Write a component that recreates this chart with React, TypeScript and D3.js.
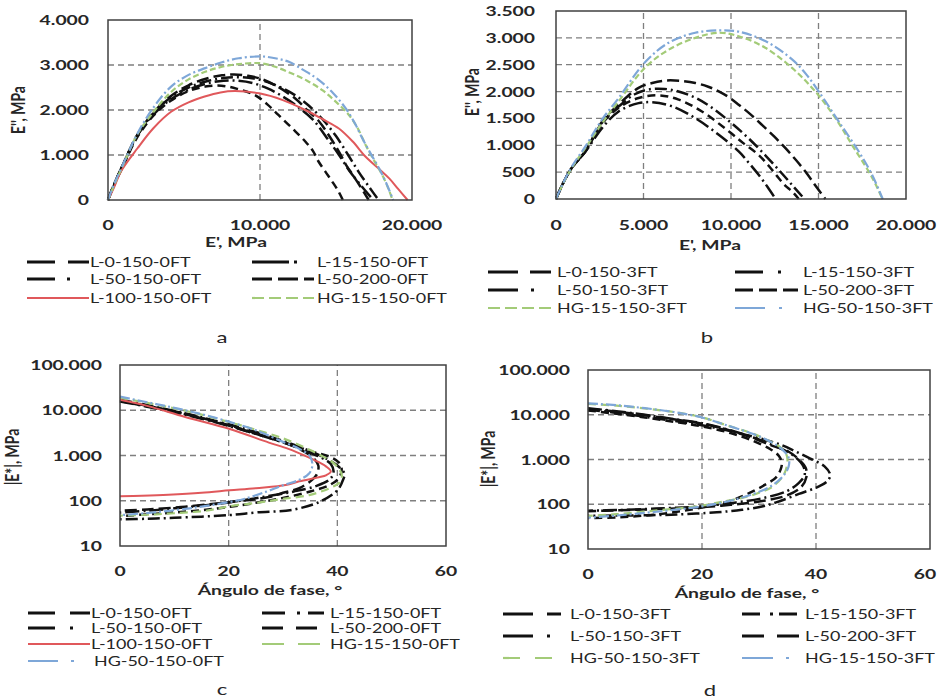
import React from 'react';
import * as d3 from 'd3';

type P = [number, number];

// ---------- Panel a : E' vs E'' (0FT) ----------
const a_L0_150: P[] = [[0,0],[400,350],[1000,800],[1900,1430],[3000,1950],[4100,2300],[5300,2550],[6500,2700],[7500,2770],[8300,2790],[9200,2760],[10000,2700],[11000,2550],[12300,2260],[13100,2000],[13900,1740],[14600,1400],[15200,1070],[15700,760],[16100,560],[16600,300],[17150,0]];
const a_L15_150: P[] = [[0,0],[400,340],[1000,790],[1900,1420],[3000,1930],[4100,2270],[5300,2500],[6500,2640],[7600,2710],[8600,2730],[9600,2700],[10500,2620],[11500,2480],[12300,2330],[13200,2100],[14100,1800],[15000,1420],[15800,1000],[16500,620],[17200,280],[17800,0]];
const a_L50_150: P[] = [[0,0],[400,345],[1000,795],[1900,1420],[3000,1900],[4100,2230],[5300,2450],[6500,2590],[7600,2650],[8500,2650],[9500,2600],[10500,2480],[11500,2300],[12500,2070],[13500,1780],[14400,1380],[15200,1000],[15900,640],[16700,300],[17450,0]];
const a_L50_200: P[] = [[0,0],[400,330],[1000,760],[1900,1380],[3000,1880],[4100,2200],[5300,2420],[6400,2520],[7460,2540],[8500,2470],[9670,2330],[10500,2120],[11210,1890],[12100,1600],[12980,1300],[13500,1080],[13860,850],[14300,630],[14750,410],[15150,200],[15450,0]];
const a_L100_150: P[] = [[0,0],[400,280],[840,630],[1940,1150],[3000,1600],[4150,1960],[5300,2170],[6360,2300],[7400,2390],[8340,2420],[9950,2370],[11500,2220],[12980,2000],[14100,1800],[15190,1590],[16100,1300],[16950,960],[17800,700],[18500,480],[19100,240],[19710,0]];
const a_HG15_150: P[] = [[0,0],[400,330],[1000,780],[1900,1440],[3000,1960],[4150,2400],[5300,2680],[6400,2850],[7500,2960],[8600,3020],[10000,3040],[11000,2960],[12100,2810],[13100,2650],[14100,2440],[15000,2180],[15850,1890],[16500,1550],[16950,1220],[17500,880],[18050,550],[18450,250],[18720,0]];
const a_HG50_150: P[] = [[0,0],[400,350],[1000,800],[1940,1480],[3000,2060],[4150,2520],[5300,2780],[6400,2930],[7500,3060],[8600,3150],[10100,3190],[11000,3150],[11900,3070],[12900,2880],[13860,2670],[14800,2380],[15630,2040],[16250,1700],[16730,1370],[17300,1020],[17840,700],[18300,380],[18760,0]];

// ---------- Panel b : E' vs E'' (3FT) ----------
const b_L0_150: P[] = [[0,0],[400,290],[900,580],[1680,890],[2630,1440],[3580,1760],[4720,2070],[5500,2160],[6250,2205],[7100,2200],[7960,2160],[8700,2090],[9300,2005],[9900,1890],[10440,1756],[11100,1580],[11770,1380],[12450,1170],[13100,950],[13700,730],[14250,510],[14800,260],[15390,0]];
const b_L15_150: P[] = [[0,0],[400,290],[900,580],[1680,890],[2630,1420],[3580,1720],[4500,1950],[5300,2040],[6200,2050],[7000,2000],[8000,1880],[9000,1680],[10000,1420],[11000,1130],[12000,800],[12900,480],[13600,220],[14200,0]];
const b_L50_150: P[] = [[0,0],[400,290],[900,580],[1680,880],[2630,1320],[3580,1630],[4720,1785],[5490,1800],[6630,1725],[7960,1505],[9300,1195],[10440,885],[11000,680],[11580,450],[12100,220],[12550,0]];
const b_L50_200: P[] = [[0,0],[400,290],[900,580],[1680,890],[2630,1400],[3580,1700],[4720,1880],[5870,1930],[7010,1850],[8340,1630],[9870,1260],[10700,1040],[11580,820],[12200,600],[12720,390],[13100,250],[13490,140],[13870,0]];
const b_HG15_150: P[] = [[0,0],[400,280],[900,580],[1680,950],[2630,1410],[3580,1820],[5070,2440],[6440,2780],[7960,3000],[9300,3095],[10440,3030],[11960,2815],[13490,2440],[14820,2000],[15960,1510],[16910,1010],[17870,510],[18300,250],[18650,0]];
const b_HG50_150: P[] = [[0,0],[400,290],[900,600],[1680,980],[2630,1480],[3580,1880],[5070,2540],[6440,2910],[7960,3095],[9300,3140],[10440,3115],[11960,2940],[13490,2600],[14300,2320],[15010,2005],[16150,1445],[17300,885],[18060,450],[18670,0]];

// ---------- Panel c : phase angle vs |E*| (0FT) ----------
const c_L0_150: P[] = [[0,16500],[5,12500],[10,9500],[15,6800],[20,4600],[25,3000],[30,1950],[33,1400],[35.5,900],[36.5,600],[36.3,400],[35.5,300],[33,190],[30,150],[27.4,121],[20,93],[12,74],[5,64],[0,60]];
const c_L15_150: P[] = [[0,17000],[5,13000],[10,9700],[15,7000],[20,4900],[25,3300],[30,2100],[35,1250],[38,850],[40,600],[41.3,400],[41,280],[40,170],[37,98],[32,64],[25,55],[20,48],[10,42],[5,40],[0,39]];
const c_L50_150: P[] = [[0,15500],[5,12000],[10,9000],[15,6500],[20,4500],[25,3000],[30,1950],[34,1280],[37,900],[38.8,650],[39.3,420],[38.5,290],[36,210],[32,160],[27,125],[20,92],[15,78],[10,68],[5,60],[0,55]];
const c_L50_200: P[] = [[0,16000],[5,12200],[10,9300],[15,6700],[20,4700],[25,3100],[30,2000],[35,1250],[38.5,950],[40.3,700],[40.8,500],[40.3,320],[38.5,220],[35,160],[30,115],[25,90],[20,73],[15,62],[10,55],[5,50],[0,46]];
const c_L100_150: P[] = [[0,17000],[5,12500],[12,7100],[20.2,3850],[27.4,1930],[31,1400],[34.2,970],[36.5,720],[37.9,575],[38.8,443],[38,370],[36.6,330],[33,270],[30.5,222],[25,190],[20.2,170],[15,150],[8.9,136],[4,129],[0,125]];
const c_HG15_150: P[] = [[0,19000],[5,14500],[10,11000],[15,8000],[20,5500],[25,3700],[30,2400],[34,1500],[37,1000],[39.5,650],[40.8,380],[40.5,260],[39,200],[35,135],[30,110],[26,93],[20,75],[15.7,60],[10,53],[5,49],[0,47]];
const c_HG50_150: P[] = [[0,20000],[5,15000],[10,11300],[15,8200],[20,5600],[25,3600],[30,2000],[33,1400],[35,950],[35.4,600],[34.8,400],[33,290],[30,220],[27,160],[23,111],[20,93],[15,74],[12,66],[6,55],[0,48]];

// ---------- Panel d : phase angle vs |E*| (3FT) ----------
const d_L0_150: P[] = [[0,13500],[5,11800],[10,9800],[15,7900],[20,6300],[25,4400],[29,3000],[32,2100],[35,1550],[37,1000],[38.2,650],[38.3,400],[37.5,250],[35,160],[30,115],[25,97],[20,86],[11,77],[5,73],[0,70]];
const d_L15_150: P[] = [[0,13000],[5,11000],[10,9000],[15,7300],[20,5800],[25,4300],[30,3000],[34,2100],[36.5,1500],[39,1050],[41.5,700],[42.5,450],[42,330],[40.5,250],[37,170],[33,110],[30.7,90],[27,75],[22.6,66],[15.6,59],[10.9,57],[5,56],[0,55]];
const d_L50_150: P[] = [[0,14000],[5,12000],[10,10000],[15,8000],[20,6500],[25,4500],[29,3100],[32,2200],[34.5,1600],[36.5,1100],[37.8,700],[38,450],[37,300],[35,200],[31,140],[26,110],[20,90],[12,80],[5,74],[0,72]];
const d_L50_200: P[] = [[0,12500],[5,10500],[10,8700],[15,7000],[20,5500],[25,3900],[29,2600],[32,1700],[33.5,1200],[34,850],[33.8,600],[33,400],[31,270],[28,170],[25,120],[20,85],[15,66],[10,56],[5,51],[0,49]];
const d_HG50_150: P[] = [[0,17500],[5,16000],[10,13800],[15,11500],[19.8,8900],[24,6000],[28.9,3800],[31.5,2700],[33.6,1940],[34.8,1300],[35,990],[34.5,500],[32.5,253],[30,180],[27.2,141],[23,110],[19.8,92],[11.3,71],[5,60],[0,55]];
const d_HG15_150: P[] = [[0,18000],[5,16300],[10,14000],[15,11500],[20,8700],[24,6000],[29,3700],[32,2500],[34,1700],[35.2,1100],[35.2,700],[34.2,420],[32,250],[29,170],[25,120],[20,90],[12,68],[5,56],[0,50]];

// ---------- ticks ----------
const aXTicks = [0, 10000, 20000];
const aYTicks = [0, 1000, 2000, 3000, 4000];
const bXTicks = [0, 5000, 10000, 15000, 20000];
const bYTicks = [0, 500, 1000, 1500, 2000, 2500, 3000, 3500];
const phaseTicks = [0, 20, 40, 60];
const modTicks = [10, 100, 1000, 10000, 100000];

const loc = d3.formatLocale({ decimal: ',', thousands: '.', grouping: [3], currency: ['', ''] });
const fmt = loc.format(',d');

const FONT = 'Lato, "Open Sans", sans-serif';
const SX = 1.38;
const TXT = '#262626';
const BLACK = '#111';
const RED = '#E0585B';
const GREEN = '#A3CB78';
const BLUE = '#7EA7D8';

type S = { name: string; data: P[]; color: string; w: number; dash: string; ldash: string };

function T(p: any) {
  const { x, y, children, anchor = 'start', size = 13, weight = 400, rot = false } = p;
  const tr = rot ? `translate(${x},${y}) rotate(-90) scale(1,${SX})` : `translate(${x},${y}) scale(${SX},1)`;
  return (
    <text transform={tr} textAnchor={anchor} fontSize={size} fontWeight={weight} fill={TXT} fontFamily={FONT}>
      {children}
    </text>
  );
}

function Panel(p: any) {
  const { x, y, series, xTicks, yTicks, xGrid, yGrid, yLabelX, xLabelY } = p;
  const [x0, x1] = x.range();
  const [y0, y1] = y.range();
  const line = d3.line<P>().x((d) => x(d[0])).y((d) => y(d[1])).curve(d3.curveCatmullRom.alpha(0.5));
  return (
    <g>
      {xGrid.map((v: number) => (
        <line key={'gx' + v} x1={x(v)} x2={x(v)} y1={y0} y2={y1} stroke="#7f7f7f" strokeWidth={1.3} strokeDasharray="6,4" />
      ))}
      {yGrid.map((v: number) => (
        <line key={'gy' + v} x1={x0} x2={x1} y1={y(v)} y2={y(v)} stroke="#7f7f7f" strokeWidth={1.3} strokeDasharray="6,4" />
      ))}
      {series.map((s: S) => (
        <path key={s.name} d={line(s.data) || ''} fill="none" stroke={s.color} strokeWidth={s.w} strokeDasharray={s.dash} strokeLinejoin="round" />
      ))}
      <rect x={x0} y={y1} width={x1 - x0} height={y0 - y1} fill="none" stroke="#404040" strokeWidth={1.5} />
      {yTicks.map((v: number) => (
        <T key={'ty' + v} x={yLabelX} y={y(v) + 5} anchor="end" size={14} weight={700}>{fmt(v)}</T>
      ))}
      {xTicks.map((v: number, i: number) => (
        <T key={'tx' + v} x={x(v) - (p.lastShift && i === xTicks.length - 1 ? p.lastShift : 0)} y={xLabelY} anchor="middle" size={14} weight={700}>{fmt(v)}</T>
      ))}
    </g>
  );
}

function Legend(p: any) {
  const { items, cols, rows, len } = p;
  return (
    <g>
      {items.map((it: any) => {
        const s: S = it.s;
        const c = cols[it.c];
        const yy = rows[it.r];
        return (
          <g key={s.name}>
            <line x1={c.lx} x2={c.lx + len} y1={yy} y2={yy} stroke={s.color} strokeWidth={s.color === BLACK ? 3 : 2.2} strokeDasharray={s.ldash} />
            <T x={c.tx + (it.dx || 0)} y={yy + 5} size={13}>{s.name}</T>
          </g>
        );
      })}
    </g>
  );
}

export default function App() {
  // panel a
  const ax = d3.scaleLinear().domain([0, 20000]).range([108, 412]);
  const ay = d3.scaleLinear().domain([0, 4000]).range([200, 20]);
  const A: S[] = [
    { name: 'L-0-150-0FT', data: a_L0_150, color: BLACK, w: 2.5, dash: '12,5', ldash: '28,13' },
    { name: 'L-15-150-0FT', data: a_L15_150, color: BLACK, w: 2.5, dash: '12,4,2,4', ldash: '37,5,3,30' },
    { name: 'L-50-150-0FT', data: a_L50_150, color: BLACK, w: 2.5, dash: '14,4,2,4', ldash: '28,12,3,30' },
    { name: 'L-50-200-0FT', data: a_L50_200, color: BLACK, w: 2.5, dash: '8,5', ldash: '20,6' },
    { name: 'L-100-150-0FT', data: a_L100_150, color: RED, w: 2, dash: '', ldash: '' },
    { name: 'HG-15-150-0FT', data: a_HG15_150, color: GREEN, w: 2.2, dash: '6,3', ldash: '12,5' },
    { name: 'HG-50-150-0FT', data: a_HG50_150, color: BLUE, w: 2.2, dash: '10,3,2,3', ldash: '' },
  ];
  // panel b
  const bx = d3.scaleLinear().domain([0, 20000]).range([556, 906]);
  const by = d3.scaleLinear().domain([0, 3500]).range([199, 11]);
  const B: S[] = [
    { name: 'L-0-150-3FT', data: b_L0_150, color: BLACK, w: 2.5, dash: '12,5', ldash: '30,12' },
    { name: 'L-15-150-3FT', data: b_L15_150, color: BLACK, w: 2.5, dash: '12,4,2,4', ldash: '28,15,3,30' },
    { name: 'L-50-150-3FT', data: b_L50_150, color: BLACK, w: 2.5, dash: '14,4,2,4', ldash: '30,13,3,30' },
    { name: 'L-50-200-3FT', data: b_L50_200, color: BLACK, w: 2.5, dash: '8,5', ldash: '18,6' },
    { name: 'HG-15-150-3FT', data: b_HG15_150, color: GREEN, w: 2.2, dash: '6,3', ldash: '12,5' },
    { name: 'HG-50-150-3FT', data: b_HG50_150, color: BLUE, w: 2.2, dash: '10,3,2,3', ldash: '30,14,3,30' },
  ];
  // panel c
  const cx = d3.scaleLinear().domain([0, 60]).range([120, 446]);
  const cy = d3.scaleLog().domain([10, 100000]).range([546, 365]);
  const C: S[] = [
    { name: 'L-0-150-0FT', data: c_L0_150, color: BLACK, w: 2.5, dash: '12,5', ldash: '27,15' },
    { name: 'L-15-150-0FT', data: c_L15_150, color: BLACK, w: 2.5, dash: '12,4,2,4', ldash: '23,12,3,8' },
    { name: 'L-50-150-0FT', data: c_L50_150, color: BLACK, w: 2.5, dash: '14,4,2,4', ldash: '27,15,3,30' },
    { name: 'L-50-200-0FT', data: c_L50_200, color: BLACK, w: 2.5, dash: '8,5', ldash: '21,13' },
    { name: 'L-100-150-0FT', data: c_L100_150, color: RED, w: 2, dash: '', ldash: '' },
    { name: 'HG-15-150-0FT', data: c_HG15_150, color: GREEN, w: 2.2, dash: '8,5', ldash: '22,14' },
    { name: 'HG-50-150-0FT', data: c_HG50_150, color: BLUE, w: 2.2, dash: '10,3,2,3', ldash: '30,13,3,30' },
  ];
  // panel d
  const dx = d3.scaleLinear().domain([0, 60]).range([588, 930]);
  const dy = d3.scaleLog().domain([10, 100000]).range([549, 370]);
  const D: S[] = [
    { name: 'L-0-150-3FT', data: d_L0_150, color: BLACK, w: 2.5, dash: '12,5', ldash: '30,14' },
    { name: 'L-15-150-3FT', data: d_L15_150, color: BLACK, w: 2.5, dash: '12,4,2,4', ldash: '18,10,3,6' },
    { name: 'L-50-150-3FT', data: d_L50_150, color: BLACK, w: 2.5, dash: '14,4,2,4', ldash: '30,14,3,30' },
    { name: 'L-50-200-3FT', data: d_L50_200, color: BLACK, w: 2.5, dash: '8,5', ldash: '22,13' },
    { name: 'HG-50-150-3FT', data: d_HG50_150, color: GREEN, w: 2.2, dash: '8,5', ldash: '17,15' },
    { name: 'HG-15-150-3FT', data: d_HG15_150, color: BLUE, w: 2.2, dash: '10,3,2,3', ldash: '31,13,3,30' },
  ];

  return (
    <svg width={940} height={700} style={{ position: 'absolute', left: 0, top: 0, background: '#fff' }}>
      <rect x={0} y={0} width={940} height={700} fill="#fff" />
      <Panel x={ax} y={ay} series={A} xTicks={aXTicks} yTicks={aYTicks} xGrid={[10000]} yGrid={[1000, 2000, 3000]} yLabelX={89} xLabelY={230} />
      <Panel x={bx} y={by} series={B} xTicks={bXTicks} yTicks={bYTicks} xGrid={[5000, 10000, 15000]} yGrid={[500, 1000, 1500, 2000, 2500, 3000]} yLabelX={535} xLabelY={230} />
      <Panel x={cx} y={cy} series={C} xTicks={phaseTicks} yTicks={modTicks} xGrid={[20, 40]} yGrid={[100, 1000, 10000]} yLabelX={102} xLabelY={576} />
      <Panel x={dx} y={dy} series={D} xTicks={phaseTicks} yTicks={modTicks} xGrid={[20, 40]} yGrid={[100, 1000, 10000]} yLabelX={570} xLabelY={579} lastShift={5} />

      {/* axis titles */}
      <T x={236} y={247} anchor="middle" size={14} weight={700}>E', MPa</T>
      <T x={25} y={110} anchor="middle" size={14} weight={700} rot>E'', MPa</T>
      <T x={710} y={250} anchor="middle" size={14} weight={700}>E', MPa</T>
      <T x={479} y={92} anchor="middle" size={14} weight={700} rot>E'', MPa</T>
      <T x={270} y={595} anchor="middle" size={14} weight={700}>Ángulo de fase, °</T>
      <T x={19} y={457} anchor="middle" size={14} weight={700} rot>|E*|, MPa</T>
      <T x={747} y={598} anchor="middle" size={14} weight={700}>Ángulo de fase, °</T>
      <T x={495} y={459} anchor="middle" size={14} weight={700} rot>|E*|, MPa</T>

      {/* legends */}
      <Legend len={62} rows={[262, 279, 298]} cols={[{ lx: 27, tx: 90 }, { lx: 252, tx: 317 }]}
        items={[{ s: A[0], c: 0, r: 0 }, { s: A[1], c: 1, r: 0 }, { s: A[2], c: 0, r: 1 }, { s: A[3], c: 1, r: 1 }, { s: A[4], c: 0, r: 2 }, { s: A[5], c: 1, r: 2 }]} />
      <Legend len={63} rows={[272, 290, 308]} cols={[{ lx: 488, tx: 557 }, { lx: 735, tx: 803 }]}
        items={[{ s: B[0], c: 0, r: 0 }, { s: B[1], c: 1, r: 0 }, { s: B[2], c: 0, r: 1 }, { s: B[3], c: 1, r: 1 }, { s: B[4], c: 0, r: 2 }, { s: B[5], c: 1, r: 2 }]} />
      <Legend len={62} rows={[613, 628, 644, 661]} cols={[{ lx: 28, tx: 91 }, { lx: 262, tx: 330 }]}
        items={[{ s: C[0], c: 0, r: 0 }, { s: C[1], c: 1, r: 0 }, { s: C[2], c: 0, r: 1 }, { s: C[3], c: 1, r: 1 }, { s: C[4], c: 0, r: 2 }, { s: C[5], c: 1, r: 2 }, { s: C[6], c: 0, r: 3, dx: 3 }]} />
      <Legend len={58} rows={[614, 636, 658]} cols={[{ lx: 503, tx: 570 }, { lx: 742, tx: 805 }]}
        items={[{ s: D[0], c: 0, r: 0 }, { s: D[1], c: 1, r: 0 }, { s: D[2], c: 0, r: 1 }, { s: D[3], c: 1, r: 1 }, { s: D[4], c: 0, r: 2 }, { s: D[5], c: 1, r: 2 }]} />

      {/* panel letters */}
      <T x={222} y={343} anchor="middle" size={16}>a</T>
      <T x={707} y={343} anchor="middle" size={16}>b</T>
      <T x={222} y={695} anchor="middle" size={16}>c</T>
      <T x={710} y={696} anchor="middle" size={16}>d</T>
    </svg>
  );
}
